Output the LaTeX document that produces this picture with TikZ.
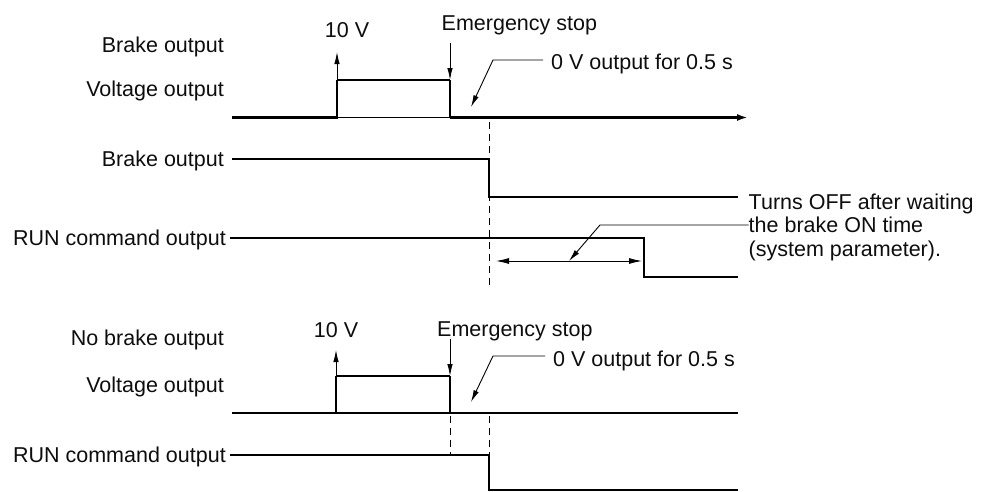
\documentclass[tikz,border=0pt]{standalone}
\usepackage{fontspec}
\setmainfont{Liberation Sans}
\usetikzlibrary{arrows.meta}

\begin{document}
\begin{tikzpicture}[x=1pt, y=-1pt,
				>={Latex[length=12pt,width=5.5pt]},   %default arrow tips
				font=\fontsize{21.5}{23.7}\selectfont,
				sig/.style={line width=2.4pt},
				thinsig/.style={line width=1.4pt},
				lead/.style={line width=0.9pt},
				guide/.style={line width=0.8pt, dash pattern=on 7pt off 5pt},
				lbl/.style={inner sep=0pt, text=black!95}]
				\useasboundingbox (0,0) rectangle (986,491);
				% top: labels
				\node[lbl, anchor=base east] (tbrake) at (224,52.3) {Brake output};
				\node[lbl, anchor=base east] (tvolt) at (224,96.7) {Voltage output};
				% top: voltage output with pulse
				\coordinate (a0) at (232,117.5);
				\coordinate (a1) at (337,117.5);
				\coordinate (a2) at (337,80);
				\coordinate (a3) at (450,80);
				\coordinate (a4) at (450,117.5);
				\coordinate (a5) at (748,117.5);
				\draw[sig] (a0) -- (a1) -- (a2);
				\draw[thinsig] (a2) -- (a3);
				\draw[thinsig] (a1) -- (a4);
				\draw[sig] (a3) -- (a4);
				\draw[sig,->,>={Latex[length=11pt,width=7pt]}] (a4) -- (a5);
				% top: 10 V and emergency stop
				\node[lbl, anchor=base] (tten) at (347,37) {10 V};
				\draw[lead,->] (a2) -- ++(0,-28);
				\node[lbl, anchor=base west] (tstop) at (441.5,30.5) {Emergency stop};
				\draw[lead,<-] (a3) -- ++(0,-37);
				% top: 0 V for 0.5 s
				\node[lbl, anchor=base west, inner xsep=8pt] (tzero) at (543,69.3) {0 V output for 0.5 s};
				\coordinate (zk) at (493,60);
				\coordinate (zt) at (471,107);
				\draw[lead,<-] (zt) -- (zk) -- (zk -| tzero.west);
				\draw[guide] (489,122) -- (489,287);
				% top: brake output
				\node[lbl, anchor=base east, inner xsep=8pt] (tbrk) at (232,166.5) {Brake output};
				\draw[sig] ([yshift=7.5pt]tbrk.base east) -- (489,159) -- (489,197) -- (738,197);
				% top: RUN command output
				\node[lbl, anchor=base east, inner xsep=4pt] (trun) at (230,245.7) {RUN command output};
				\draw[sig] ([yshift=7.7pt]trun.base east) -- (644,238) -- (644,277) -- (738,277);
				% brake ON time
				\coordinate (w0) at (496,261);
				\coordinate (w1) at (642,261);
				\coordinate (wt) at (569,261);
				\coordinate (wk) at (600,225);
				\draw[lead,<->,>={Latex[length=13pt,width=6pt]}] (w0) -- (w1);
				\node[lbl, anchor=west, align=left] (tturn) at (748.5,227.4) {Turns OFF after waiting\\the brake ON time\\(system parameter).};
				\draw[lead,<-] (wt) -- (wk) -- (wk -| tturn.west);
				% bottom: labels
				\node[lbl, anchor=base east] (bnobrake) at (224,345) {No brake output};
				\node[lbl, anchor=base east] (bvolt) at (224,392.7) {Voltage output};
				% bottom: voltage output with pulse
				\coordinate (b0) at (232,413);
				\coordinate (b1) at (336,413);
				\coordinate (b2) at (336,376);
				\coordinate (b3) at (450,376);
				\coordinate (b4) at (450,413);
				\coordinate (b5) at (738,413);
				\draw[sig] (b0) -- (b5);
				\draw[sig] (b1) -- (b2);
				\draw[thinsig] (b2) -- (b3);
				\draw[sig] (b3) -- (b4);
				% bottom: 10 V and emergency stop
				\node[lbl, anchor=base] (bten) at (336,337) {10 V};
				\draw[lead,->] (b2) -- ++(0,-26);
				\node[lbl, anchor=base west] (bstop) at (437,336) {Emergency stop};
				\draw[lead,<-] (b3) -- ++(0,-37);
				% bottom: 0 V for 0.5 s
				\node[lbl, anchor=base west, inner xsep=8pt] (bzero) at (545,366.7) {0 V output for 0.5 s};
				\coordinate (bk) at (493,356);
				\coordinate (bt) at (471,402);
				\draw[lead,<-] (bt) -- (bk) -- (bk -| bzero.west);
				\foreach \x in {450,489} \draw[guide] (\x,416) -- (\x,455);
				% bottom: RUN command output
				\node[lbl, anchor=base east, inner xsep=4pt] (brun) at (230,462.7) {RUN command output};
				\draw[sig] ([yshift=7.7pt]brun.base east) -- (489,455) -- (489,489.8) -- (738,489.8);
			\end{tikzpicture}
\end{document}
